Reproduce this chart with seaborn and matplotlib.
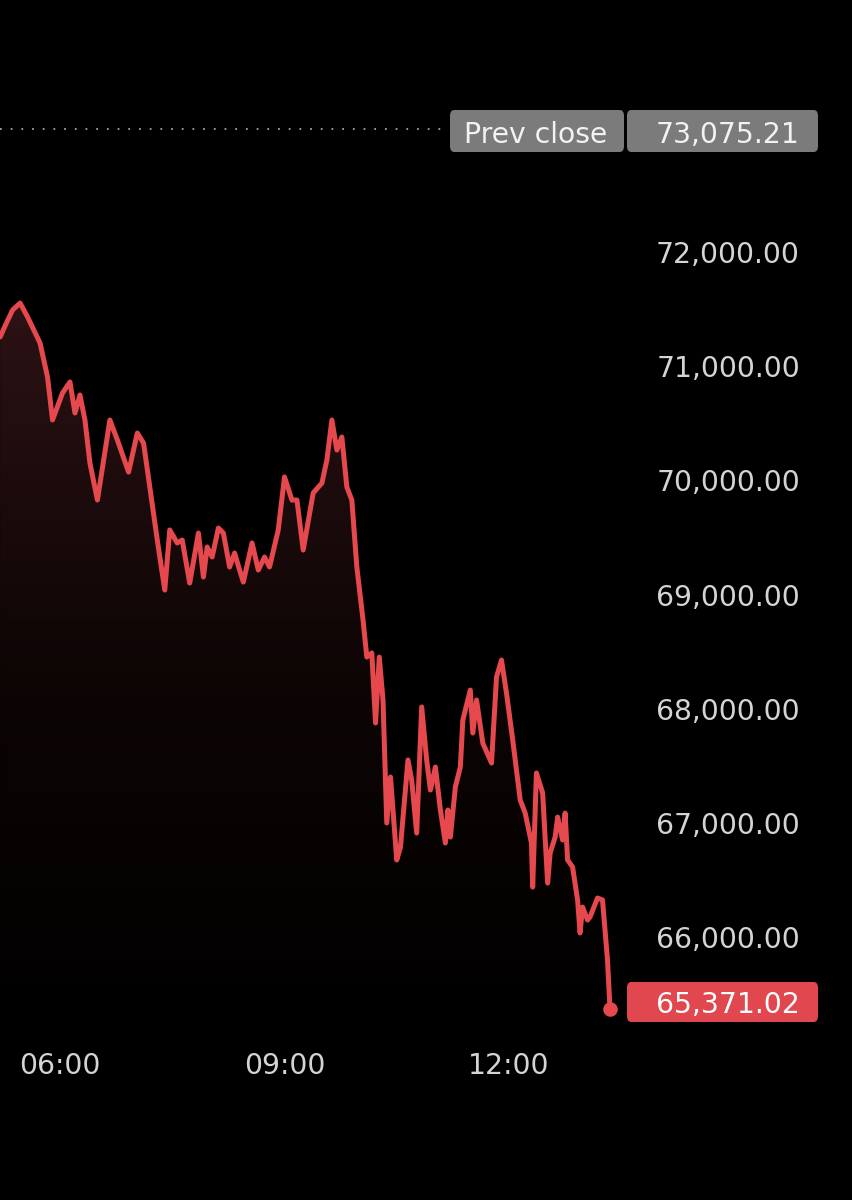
import numpy as np
import pandas as pd
import matplotlib
matplotlib.use("Agg")
import matplotlib.pyplot as plt
import matplotlib.colors as mcolors
import matplotlib.transforms as mtransforms
from matplotlib.patches import FancyBboxPatch
import seaborn as sns

sns.set_style("dark")
plt.rcParams['font.family'] = ['DejaVu Sans']
plt.rcParams['figure.facecolor'] = '#000000'
plt.rcParams['axes.facecolor'] = '#000000'

# intraday price trace
times = ["05:12", "05:17", "05:22", "05:28", "05:34", "05:44", "05:50", "05:54",
         "06:02", "06:08", "06:12", "06:16", "06:20", "06:24", "06:30", "06:40",
         "06:46", "06:55", "07:02", "07:07", "07:12", "07:18", "07:24", "07:28",
         "07:34", "07:38", "07:44", "07:51", "07:55", "07:58", "08:02", "08:07",
         "08:11", "08:16", "08:20", "08:24", "08:27", "08:34", "08:39", "08:44",
         "08:48", "08:55", "09:00", "09:06", "09:10", "09:15", "09:23", "09:30",
         "09:34", "09:38", "09:42", "09:46", "09:50", "09:54", "09:58", "10:03",
         "10:06", "10:10", "10:13", "10:16", "10:19", "10:22", "10:25", "10:27",
         "10:30", "10:33", "10:39", "10:42", "10:46", "10:50", "10:54", "10:57",
         "11:01", "11:05", "11:09", "11:11", "11:13", "11:17", "11:21", "11:23",
         "11:29", "11:31", "11:34", "11:39", "11:46", "11:50", "11:54", "11:58",
         "12:03", "12:09", "12:13", "12:18", "12:19", "12:22", "12:27", "12:31",
         "12:33", "12:37", "12:39", "12:43", "12:45", "12:47", "12:51", "12:55",
         "12:57", "12:59", "13:03", "13:05", "13:11", "13:15", "13:19", "13:21"]
prices = [71256, 71378, 71492, 71553, 71431, 71203, 70905, 70529,
          70765, 70862, 70590, 70748, 70529, 70152, 69828, 70529,
          70354, 70073, 70415, 70327, 69942, 69478, 69040, 69566,
          69452, 69478, 69101, 69539, 69154, 69417, 69329, 69583,
          69539, 69242, 69364, 69215, 69110, 69452, 69215, 69329,
          69242, 69566, 70030, 69828, 69828, 69390, 69890, 69977,
          70179, 70529, 70266, 70380, 69942, 69828, 69242, 68777,
          68453, 68489, 67876, 68453, 68077, 67000, 67403, 67114,
          66676, 66790, 67552, 67376, 66912, 68016, 67552, 67289,
          67490, 67114, 66825, 67114, 66877, 67315, 67490, 67902,
          68164, 67788, 68077, 67700, 67525, 68278, 68427, 68138,
          67727, 67201, 67087, 66825, 66439, 67438, 67263, 66474,
          66737, 66877, 67052, 66851, 67087, 66676, 66615, 66326,
          66037, 66264, 66150, 66177, 66343, 66326, 65800, 65371.02]
prev_close = 73075.21
last_price = 65371.02
y_ticks = [66000, 67000, 68000, 69000, 70000, 71000, 72000]
x_ticks = [6, 9, 12]
x_labels = ["06:00", "09:00", "12:00"]

t = pd.to_datetime(times, format="%H:%M")
hours = np.array(t.hour + t.minute / 60.0)
values = np.array(prices, dtype=float)

W, H = 853, 1200
fig = plt.figure(figsize=(W / 100, H / 100), dpi=100)
ax_bottom_px = 1035
ax = fig.add_axes([0, 1 - ax_bottom_px / H, 1, ax_bottom_px / H])

# pixel -> data calibration
px_per_hr = 74.83
px_per_k = 114.2
xmin = 6 + (0 - 60) / px_per_hr
xmax = 6 + (W - 60) / px_per_hr
ymax = 72000 + 252 / px_per_k * 1000
ymin = 72000 - (ax_bottom_px - 252) / px_per_k * 1000

red = '#e5484d'
fs = 20.3

# gradient fill under the line (dark red at top fading to black)
poly = ax.fill_between(hours, values, ymin, color='none', lw=0)
grad = np.linspace(0, 1, 256).reshape(-1, 1)
cmap = mcolors.LinearSegmentedColormap.from_list(
    'fade', ['#000000', '#0e0505', '#2c1214'])
im = ax.imshow(grad, aspect='auto', cmap=cmap, origin='lower',
               extent=[xmin, xmax, ymin, values.max()], zorder=1)
im.set_clip_path(poly.get_paths()[0], transform=ax.transData)

sns.lineplot(x=hours, y=values, color=red, lw=3.6, ax=ax, zorder=3,
             solid_joinstyle='round', solid_capstyle='round')
ax.scatter([hours[-1]], [values[-1]], s=110, color=red, zorder=4, lw=0)

# previous close dotted line
ax.axhline(prev_close, xmin=0, xmax=445 / W, color='#9a9a9a', lw=1.4,
           ls=(0, (0.9, 4.6)), zorder=2)

ax.set_xlim(xmin, xmax)
ax.set_ylim(ymin, ymax)
for s in ax.spines.values():
    s.set_visible(False)
ax.grid(False)
ax.set_yticks([])
ax.set_xticks(x_ticks)
ax.set_xticklabels(x_labels)
ax.tick_params(axis='x', length=0, pad=12, labelsize=fs, labelcolor='#d4d4d4')

trans = mtransforms.blended_transform_factory(ax.transAxes, ax.transData)
for v in y_ticks:
    ax.text(800 / W, v, f"{v:,.2f}", transform=trans, ha='right',
            va='center_baseline', fontsize=fs, color='#d4d4d4')


def box(x0, y0, x1, y1, color):
    p = FancyBboxPatch((x0 / W, 1 - y1 / H), (x1 - x0) / W, (y1 - y0) / H,
                       boxstyle="round,pad=0,rounding_size=0.005",
                       transform=fig.transFigure, fc=color, ec='none', zorder=5)
    fig.add_artist(p)


box(450, 110, 624, 152, '#7b7b7b')
box(627, 110, 818, 152, '#7b7b7b')
fig.text(536 / W, 1 - 132 / H, "Prev close", ha='center', va='center_baseline',
         fontsize=fs, color='#f2f2f2', zorder=6)
fig.text(800 / W, 1 - 132 / H, f"{prev_close:,.2f}", ha='right',
         va='center_baseline', fontsize=fs, color='#f2f2f2', zorder=6)

box(627, 982, 818, 1022, '#e0474e')
fig.text(800 / W, 1 - 1002 / H, f"{last_price:,.2f}", ha='right',
         va='center_baseline', fontsize=fs, color='#ffffff', zorder=6)

fig.savefig("out.png", dpi=100, facecolor='#000000')
